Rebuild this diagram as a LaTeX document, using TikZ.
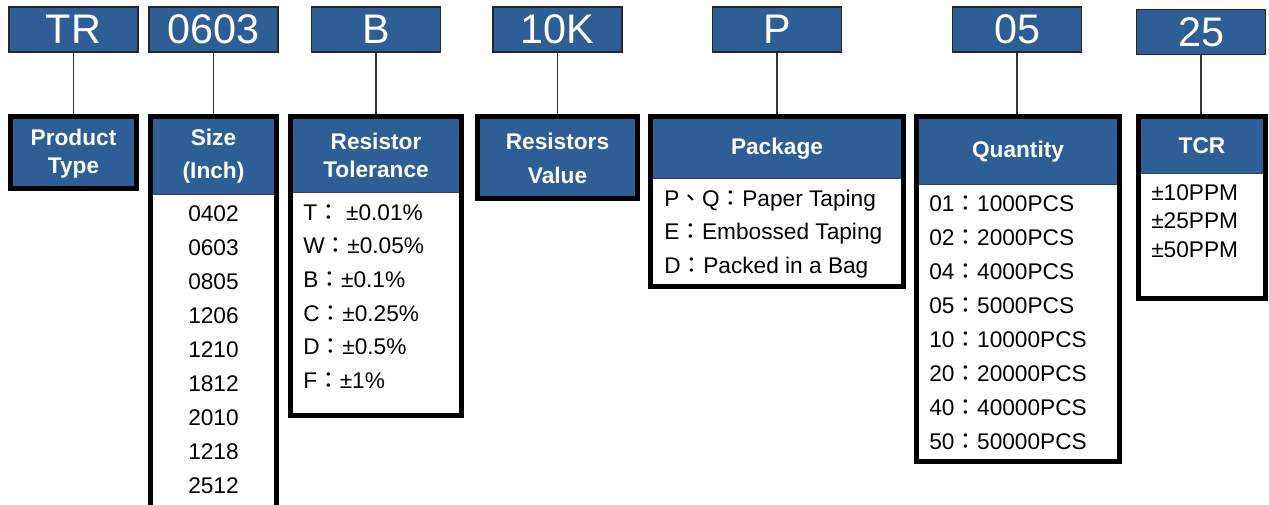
\documentclass[tikz,border=0pt]{standalone}
\usepackage{fontspec}
\setmainfont{Liberation Sans}
\newfontfamily\cjk{Noto Sans CJK TC}
\definecolor{codeblue}{RGB}{46,94,150}
\newcommand{\zcolon}{{\cjk ：}}
\newcommand{\zdun}{{\cjk 、}}

\begin{document}
\begin{tikzpicture}[
        x=0.75pt, y=-0.75pt,
        code/.style={draw=black!85, line width=1.1pt, fill=codeblue, text=white,
            inner sep=0pt, minimum width=129*0.75pt, minimum height=45*0.75pt,
            font=\fontsize{31}{31}\selectfont},
        head/.style={fill=codeblue, text=white, inner sep=0pt, align=center,
            anchor=north, font=\bfseries\fontsize{17}{21}\selectfont},
        listbox/.style={fill=white, inner sep=0pt, anchor=north},
        entry/.style={inner sep=0pt, font=\fontsize{17}{17}\selectfont},
        boxline/.style={draw=black, line width=3.75pt},
        hline/.style={draw=black!75, line width=0.8pt},
        link/.style={draw=black!80, line width=1pt}]
    \clip (0,0) rectangle (1269,504);

    % part number
    \node[code] (tr)  at (73.5,29.5) {TR};
    \node[code] (sz)  at (213.5,29.5) {0603};
    \node[code] (tol) at (376,29.5) {B};
    \node[code] (val) at (557.5,29.5) {10K};
    \node[code] (pkg) at (777,29.5) {P};
    \node[code] (qty) at (1017,29.5) {05};
    \node[code] (tcr) at (1201,32) {25};

    % headers
    \node[head, minimum width=126*0.75pt, minimum height=69*0.75pt] (trH) at (73.5,118.5) {Product\\Type};
    \node[head, minimum width=126*0.75pt, minimum height=75.5*0.75pt,
        font=\bfseries\fontsize{17}{24.75}\selectfont] (szH) at (213.5,118.5) {Size\\(Inch)};
    \node[head, minimum width=171*0.75pt, minimum height=73.5*0.75pt] (tolH) at (376,118.5) {Resistor\\Tolerance};
    \node[head, minimum width=160*0.75pt, minimum height=79*0.75pt,
        font=\bfseries\fontsize{17}{25.5}\selectfont] (valH) at (557.5,118.5) {Resistors\\Value};
    \node[head, minimum width=253*0.75pt, minimum height=59.5*0.75pt] (pkgH) at (777,118.5) {Package};
    \node[head, minimum width=203*0.75pt, minimum height=65.5*0.75pt] (qtyH) at (1018,118.5) {Quantity};
    \node[head, minimum width=127*0.75pt, minimum height=54.5*0.75pt] (tcrH) at (1202,118.5) {TCR};

    % list boxes
    \node[listbox, minimum width=126*0.75pt, minimum height=340*0.75pt] (szB) at (szH.south) {};
    \node[listbox, minimum width=171*0.75pt, minimum height=222.5*0.75pt] (tolB) at (tolH.south) {};
    \node[listbox, minimum width=253*0.75pt, minimum height=107.5*0.75pt] (pkgB) at (pkgH.south) {};
    \node[listbox, minimum width=203*0.75pt, minimum height=276.5*0.75pt] (qtyB) at (qtyH.south) {};
    \node[listbox, minimum width=127*0.75pt, minimum height=124.5*0.75pt] (tcrB) at (tcrH.south) {};

    % entries
    \foreach \s [count=\i] in {0402,0603,0805,1206,1210,1812,2010,1218,2512}
        \node[entry, anchor=base] (sz\i) at (213.5,221+34*\i-34) {\s};
    \foreach \s [count=\i] in {T\zcolon\ ±0.01\%,W\zcolon±0.05\%,B\zcolon±0.1\%,C\zcolon±0.25\%,D\zcolon±0.5\%,F\zcolon±1\%}
        \node[entry, anchor=base west] (tol\i) at (303,220+33.7*\i-33.7) {\s};
    \foreach \s [count=\i] in {P\zdun Q\zcolon Paper Taping,E\zcolon Embossed Taping,D\zcolon Packed in a Bag}
        \node[entry, anchor=base west] (pkg\i) at (664,206+33.5*\i-33.5) {\s};
    \foreach \s [count=\i] in {01\zcolon 1000PCS,02\zcolon 2000PCS,04\zcolon 4000PCS,05\zcolon 5000PCS,
            10\zcolon 10000PCS,20\zcolon 20000PCS,40\zcolon 40000PCS,50\zcolon 50000PCS}
        \node[entry, anchor=base west] (qty\i) at (929,211+34*\i-34) {\s};
    \foreach \s [count=\i] in {±10PPM,±25PPM,±50PPM}
        \node[entry, anchor=base west] (tcr\i) at (1151,200+28.5*\i-28.5) {\s};

    % links
    \foreach \n in {tr,sz,tol,val,pkg,qty,tcr}
        \draw[link] (\n.south) -- (\n.south |- \n H.north);

    % separators and frames
    \foreach \n in {sz,tol,pkg,qty,tcr}
        \draw[hline] (\n H.south west) -- (\n H.south east);
    \draw[boxline] ([yshift=2*0.75pt]trH.north west) rectangle (trH.south east);
    \draw[boxline] ([yshift=2*0.75pt]valH.north west) rectangle (valH.south east);
    \foreach \n in {sz,tol,pkg,qty,tcr}
        \draw[boxline] ([yshift=2*0.75pt]\n H.north west) rectangle (\n B.south east);
\end{tikzpicture}
\end{document}
